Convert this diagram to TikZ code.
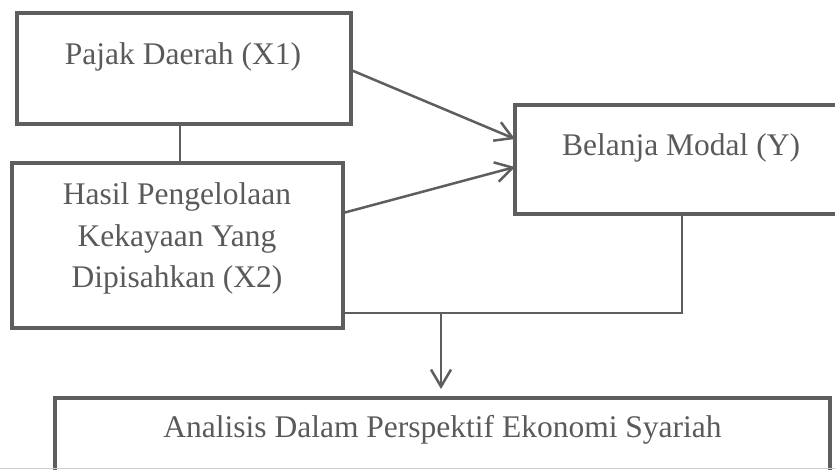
\documentclass[tikz,border=0pt]{standalone}
\usepackage{fontspec}
\setmainfont{Liberation Serif}
\usetikzlibrary{arrows.meta,calc}
\definecolor{ln}{HTML}{5E5E5E}
\definecolor{tx}{HTML}{5A5A5A}
\tikzset{
  box/.style={draw=ln, line width=4.5pt, fill=white, rectangle, inner sep=0pt, outer sep=0pt},
  lbl/.style={text=tx, font=\fontsize{31.5pt}{38pt}\selectfont, inner sep=0pt, anchor=base},
  arr/.style={draw=ln, line width=2.5pt, -{Straight Barb[length=17pt,width=20pt,line width=2.5pt]}},
  thin/.style={draw=ln, line width=2pt},
}
\begin{document}
\begin{tikzpicture}[x=1pt,y=-1pt]
\useasboundingbox (0,0) rectangle (835,469);
\clip (0,0) rectangle (835,469);
\fill[white] (0,0) rectangle (835,469);
% boxes
\node[box, minimum width=334pt, minimum height=111pt] (A) at (184,68.5) {};
\node[box, minimum width=331pt, minimum height=165pt] (B) at (177.5,245.5) {};
\node[box, minimum width=325pt, minimum height=109pt] (Y) at (677.5,159.5) {};
\node[box, minimum width=775pt, minimum height=76pt] (D) at (442.5,436) {};
\draw[ln!30, line width=1pt] (0,468) -- (835,468);
% texts
\node[lbl] (ta) at (183,64) {Pajak Daerah (X1)};
\node[lbl] (tb1) at (177,204.5) {Hasil Pengelolaan};
\node[lbl] (tb2) at (177,246) {Kekayaan Yang};
\node[lbl] (tb3) at (177,287) {Dipisahkan (X2)};
\node[lbl] (ty) at (681,155) {Belanja Modal (Y)};
\node[lbl] (td) at (442.5,437) {Analisis Dalam Perspektif Ekonomi Syariah};
% connectors
\coordinate (j) at (441,313);
\draw[thin] ([xshift=-4pt]A.south) -- ([xshift=2.5pt]B.north);
\draw[arr] ([yshift=-1.5pt]A.east) -- ([yshift=20.5pt]Y.west);
\draw[arr] ([yshift=32.5pt]B.east) -- ([yshift=-7.5pt]Y.west);
\draw[thin] ([xshift=4.5pt]Y.south) |- (B.east |- j);
\draw[arr, line width=2pt, shorten >=9pt] (j) -- (D.north -| j);
\end{tikzpicture}
\end{document}
